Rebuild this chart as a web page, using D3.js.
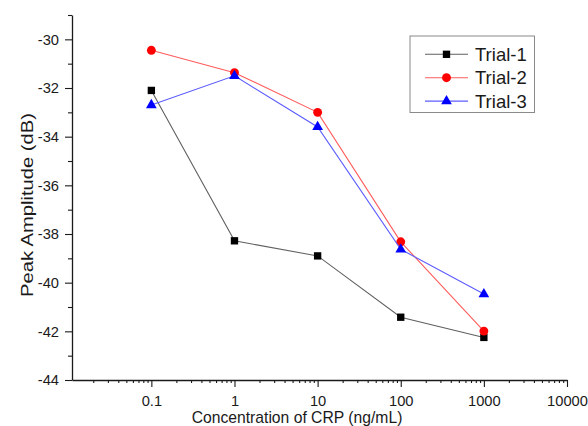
<!DOCTYPE html>
<html>
<head>
<meta charset="utf-8">
<script src="https://cdn.jsdelivr.net/npm/d3@7"></script>
<style>
  body { margin: 0; background: #fff; }
  text { font-family: "Liberation Sans", Arial, sans-serif; fill: #1a1a1a; }
</style>
</head>
<body>
<div id="plot"></div>
<script>
// concentrations (ng/mL) and peak amplitudes (dB)
var conc = [0.1, 1, 10, 100, 1000];
var trial1 = [-32.1, -38.28, -38.9, -41.42, -42.25];
var trial2 = [-30.45, -31.37, -33.0, -38.32, -41.99];
var trial3 = [-32.7, -31.5, -33.6, -38.63, -40.47];
var seriesNames = ["Trial-1", "Trial-2", "Trial-3"];
var xTickVals = [0.1, 1, 10, 100, 1000, 10000];
var yTickVals = [-44, -42, -40, -38, -36, -34, -32, -30];

var W = 588, H = 426;
var svg = d3.select('#plot').append('svg').attr('width', W).attr('height', H);

var x = d3.scaleLog().domain([0.0111, 10000]).range([72, 567]);
var y = d3.scaleLinear().domain([-44, -29]).range([380, 15]);

var series = [
  {name: seriesNames[0], vals: trial1, line: '#606060', fill: '#000', sym: d3.symbolSquare, size: 54},
  {name: seriesNames[1], vals: trial2, line: '#ff5c5c', fill: '#ff0000', sym: d3.symbolCircle, size: 62},
  {name: seriesNames[2], vals: trial3, line: '#5c5cff', fill: '#0000ff', sym: d3.symbolTriangle, size: 50}
];

// x axis: majors labelled, minors unlabelled
var minorX = [];
for (var e = -2; e <= 3; e++) {
  for (var m = 2; m <= 9; m++) {
    var v = m * Math.pow(10, e);
    if (v >= 0.0111 && v <= 10000) minorX.push(v);
  }
}
svg.append('g').attr('transform', 'translate(0,380)')
  .call(d3.axisBottom(x).tickValues(minorX).tickSize(3).tickFormat(''))
  .call(g => g.select('.domain').remove());
var gx = svg.append('g').attr('transform', 'translate(0,380)')
  .call(d3.axisBottom(x).tickValues(xTickVals).tickSize(7).tickSizeOuter(0)
    .tickFormat(d => String(d)));
gx.selectAll('text').attr('font-size', 14.7).attr('y', 25.5).attr('dy', 0);

// y axis
var minorY = d3.range(-43, -28, 2);
svg.append('g').attr('transform', 'translate(72,0)')
  .call(d3.axisLeft(y).tickValues(minorY).tickSize(4).tickFormat(''))
  .call(g => g.select('.domain').remove());
var gy = svg.append('g').attr('transform', 'translate(72,0)')
  .call(d3.axisLeft(y).tickValues(yTickVals).tickSize(7).tickSizeOuter(0).tickPadding(6)
    .tickFormat(d => String(d)));
gy.selectAll('text').attr('font-size', 14.7);

svg.selectAll('.domain').attr('stroke', '#1a1a1a').attr('stroke-width', 1.3);
svg.selectAll('.tick line').attr('stroke', '#1a1a1a').attr('stroke-width', 1.1);

// titles
svg.append('text').attr('x', 297).attr('y', 422.5).attr('text-anchor', 'middle')
  .attr('font-size', 15.7).text('Concentration of CRP (ng/mL)');
svg.append('text').attr('transform', 'translate(33,205) rotate(-90)')
  .attr('text-anchor', 'middle').attr('font-size', 16.5)
  .attr('textLength', 184).attr('lengthAdjust', 'spacingAndGlyphs')
  .text('Peak Amplitude (dB)');

// lines and markers
var line = d3.line().x((d, i) => x(conc[i])).y(d => y(d));
series.forEach(function(s) {
  svg.append('path').datum(s.vals).attr('d', line)
    .attr('fill', 'none').attr('stroke', s.line).attr('stroke-width', 1.1);
  svg.selectAll(null).data(s.vals).join('path')
    .attr('d', d3.symbol().type(s.sym).size(s.size))
    .attr('transform', (d, i) => 'translate(' + x(conc[i]) + ',' + y(d) + ')')
    .attr('fill', s.fill);
});

// legend
var lg = svg.append('g');
lg.append('rect').attr('x', 410).attr('y', 36).attr('width', 124.5).attr('height', 76.5)
  .attr('fill', '#fff').attr('stroke', '#8a8a8a').attr('stroke-width', 1);
series.forEach(function(s, i) {
  var ly = 54.3 + i * 23.4;
  lg.append('line').attr('x1', 425).attr('x2', 468).attr('y1', ly).attr('y2', ly)
    .attr('stroke', s.line).attr('stroke-width', 1.1);
  lg.append('path').attr('d', d3.symbol().type(s.sym).size(s.size))
    .attr('transform', 'translate(446.5,' + ly + ')').attr('fill', s.fill);
  lg.append('text').attr('x', 475).attr('y', ly + 6.4).attr('font-size', 18.5).text(s.name);
});
</script>
</body>
</html>
